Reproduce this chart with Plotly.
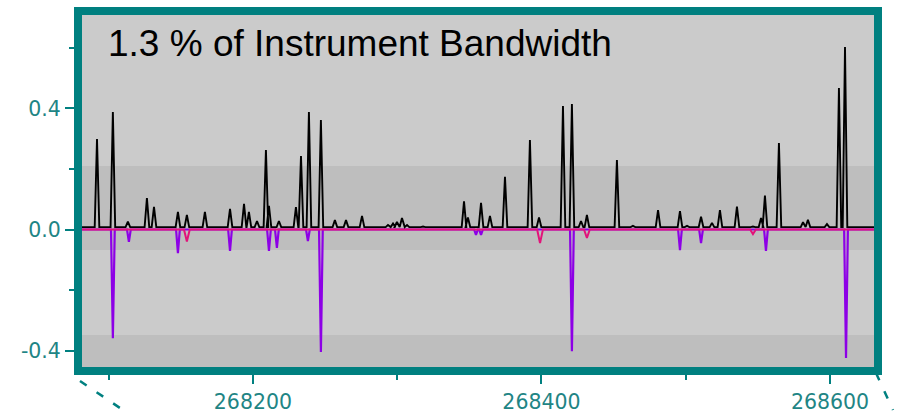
import plotly.graph_objects as go

# Positive spectrum peaks: position (axis units) and height
pos_x = [268091.9, 268102.9, 268113.3, 268126.5, 268131.4, 268148.0, 268154.2, 268166.7,
         268184.1, 268193.8, 268197.2, 268202.8, 268209.0, 268211.1, 268218.0, 268229.8,
         268233.3, 268238.8, 268247.1, 268256.8, 268264.5, 268275.6, 268293.6, 268297.1,
         268299.8, 268303.3, 268306.8, 268317.9, 268331.0, 268346.3, 268349.0, 268358.1,
         268364.3, 268374.7, 268392.0, 268398.3, 268414.9, 268421.1, 268427.4, 268431.5,
         268452.3, 268463.4, 268480.8, 268496.0, 268500.9, 268510.6, 268518.2, 268523.7,
         268535.5, 268546.6, 268552.2, 268554.9, 268564.6, 268581.3, 268584.7, 268597.9,
         268606.2, 268610.4, 268622.9]
pos_h = [0.299, 0.388, 0.026, 0.104, 0.075, 0.058, 0.048, 0.058,
         0.068, 0.085, 0.058, 0.028, 0.263, 0.078, 0.028, 0.074,
         0.243, 0.388, 0.362, 0.031, 0.031, 0.045, 0.015, 0.020,
         0.025, 0.038, 0.015, 0.010, 0.010, 0.093, 0.040, 0.088,
         0.045, 0.174, 0.296, 0.040, 0.408, 0.415, 0.028, 0.048,
         0.230, 0.012, 0.064, 0.061, 0.012, 0.042, 0.022, 0.064,
         0.076, 0.010, 0.038, 0.112, 0.286, 0.024, 0.032, 0.018,
         0.468, 0.603, 0.010]

# Negative (violet) lines
neg_x = [268102.9, 268114.0, 268148.0, 268184.1, 268211.1, 268216.6, 268238.1, 268247.1,
         268354.6, 268358.1, 268421.1, 268496.0, 268510.6, 268555.6, 268611.1]
neg_h = [-0.359, -0.041, -0.078, -0.071, -0.071, -0.061, -0.038, -0.405,
         -0.018, -0.018, -0.402, -0.068, -0.045, -0.071, -0.425]

# Residual (magenta) dips
res_x = [268154.2, 268399.0, 268431.5, 268546.6]
res_h = [-0.040, -0.045, -0.028, -0.015]

x_range = [268081.5, 268630.5]
y_range = [-0.4545, 0.709]
baseline = 0.008
half_width = 1.6

# Shaded bands on the y axis
band_mid = [-0.068, 0.210]
band_low = [-0.4545, -0.349]


def spike_line(xs, hs, base, w):
    """Connect a list of peaks into one line, each peak as a narrow spike."""
    order = sorted(range(len(xs)), key=lambda i: xs[i])
    lx = [x_range[0]]
    ly = [base]
    for i in order:
        lx += [xs[i] - w, xs[i], xs[i] + w]
        ly += [base, hs[i], base]
    lx.append(x_range[1])
    ly.append(base)
    return lx, ly


TEAL = "#008080"
LABEL = "#1f8585"
TICK_FONT = dict(family="DejaVu Sans, Verdana, sans-serif", size=20.5, color=LABEL)

fig = go.Figure()

nx, ny = spike_line(neg_x, neg_h, 0.0, 1.3)
fig.add_trace(go.Scatter(x=nx, y=ny, mode="lines",
                         line=dict(color="#8d00e6", width=2.2), hoverinfo="skip"))

rx, ry = spike_line(res_x, res_h, 0.0, 2.0)
fig.add_trace(go.Scatter(x=rx, y=ry, mode="lines",
                         line=dict(color="#e2137a", width=2), hoverinfo="skip"))

px_, py_ = spike_line(pos_x, pos_h, baseline, half_width)
fig.add_trace(go.Scatter(x=px_, y=py_, mode="lines",
                         line=dict(color="#000000", width=1.9), hoverinfo="skip"))

shapes = [
    dict(type="rect", xref="paper", yref="y", x0=0, x1=1, y0=band_mid[0], y1=band_mid[1],
         fillcolor="#bebebe", line=dict(width=0), layer="below"),
    dict(type="rect", xref="paper", yref="y", x0=0, x1=1, y0=band_low[0], y1=band_low[1],
         fillcolor="#bebebe", line=dict(width=0), layer="below"),
]

# Plot area is 792 x 352 px; frame drawn 4 px outside it (8 px thick)
W, H = 792.0, 352.0
shapes.append(dict(type="rect", xref="paper", yref="paper",
                   x0=-4 / W, x1=1 + 4 / W, y0=-4 / H, y1=1 + 4 / H,
                   line=dict(color=TEAL, width=8), layer="above"))


def px2paper(px, py):
    return (px - 82) / W, (367 - py) / H


# Zoom guide lines below the frame
for (a, b) in [((80, 381), (123, 410)), ((876, 373), (893, 410))]:
    x0, y0 = px2paper(*a)
    x1, y1 = px2paper(*b)
    shapes.append(dict(type="line", xref="paper", yref="paper",
                       x0=x0, y0=y0, x1=x1, y1=y1,
                       line=dict(color=TEAL, width=2.5, dash="8px,12px")))

fig.update_layout(
    width=898, height=413,
    margin=dict(l=82, r=24, t=15, b=46, autoexpand=False),
    paper_bgcolor="white",
    plot_bgcolor="#cbcbcb",
    showlegend=False,
    shapes=shapes,
    font=dict(family="Liberation Sans, Arial, sans-serif"),
    annotations=[dict(text="1.3 % of Instrument Bandwidth", xref="paper", yref="paper",
                      x=(106 - 82) / W, y=1 - (43 - 15) / H, xanchor="left", yanchor="middle",
                      showarrow=False, font=dict(size=37, color="#000000"))],
)

fig.update_xaxes(range=x_range, showgrid=False, zeroline=False, showline=False,
                 automargin=False,
                 tickmode="array", tickvals=[268200, 268400, 268600],
                 ticktext=["268200", "268400", "268600"],
                 ticks="outside", ticklen=16, tickwidth=1.5, tickcolor=TEAL,
                 tickfont=TICK_FONT,
                 minor=dict(tickmode="array", tickvals=[268100, 268300, 268500],
                            ticks="outside", ticklen=12, tickwidth=1.5, tickcolor=TEAL))

fig.update_yaxes(range=y_range, showgrid=False, zeroline=False, showline=False,
                 automargin=False,
                 tickmode="array", tickvals=[-0.4, 0.0, 0.4],
                 ticktext=["-0.4", "0.0", "0.4"],
                 ticks="outside", ticklen=16, tickwidth=1.5, tickcolor=TEAL,
                 tickfont=TICK_FONT,
                 minor=dict(tickmode="array", tickvals=[-0.2, 0.2, 0.6],
                            ticks="outside", ticklen=12, tickwidth=1.5, tickcolor=TEAL))

fig.write_html("out.html")
